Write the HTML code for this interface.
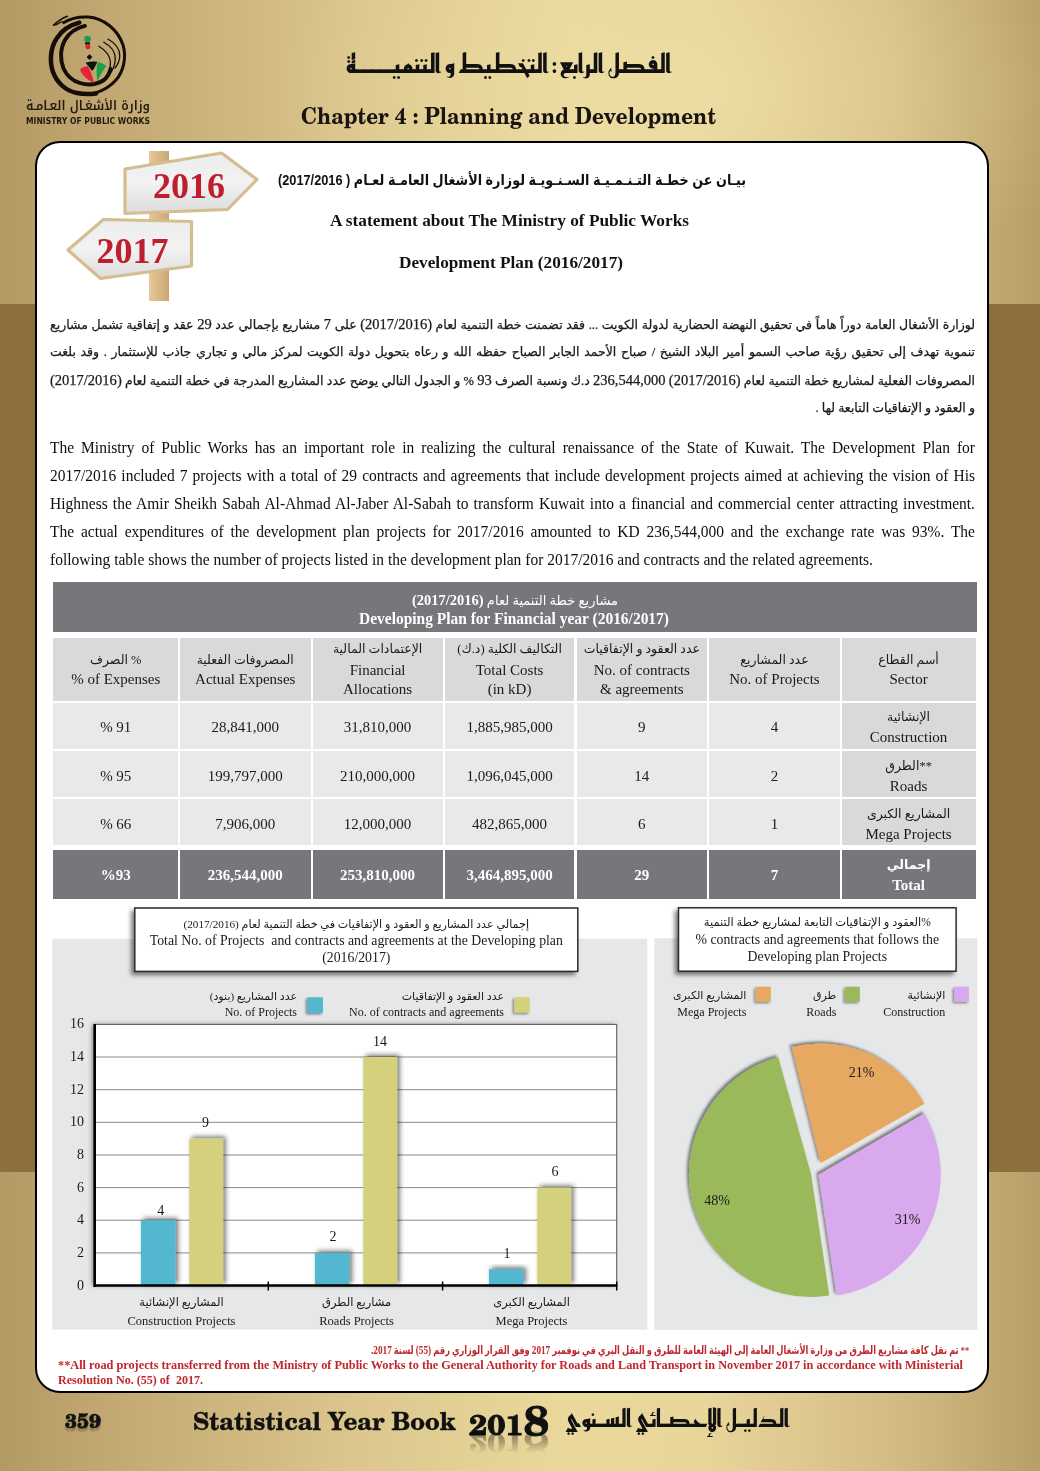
<!DOCTYPE html>
<html lang="ar">
<head>
<meta charset="utf-8">
<title>Chapter 4 : Planning and Development</title>
<style>
*{margin:0;padding:0;box-sizing:border-box}
html,body{width:1040px;height:1471px;overflow:hidden}
body{position:relative;font-family:"Liberation Serif","DejaVu Sans",serif;color:#111;
background:linear-gradient(90deg,#b39964 0%,#c4aa74 12%,#dcc88e 35%,#ead89c 55%,#e8d59a 68%,#d3bc84 86%,#b89e68 100%)}
.abs{position:absolute}
.nw{white-space:nowrap}
.ar{font-family:"Liberation Sans","DejaVu Sans",sans-serif;direction:rtl}
.band{position:absolute;left:0;top:304.0px;width:1040px;height:868px;background:#8e703e}
.topglow{position:absolute;left:0;top:0;width:1040px;height:304px;
background:radial-gradient(ellipse 420px 200px at 700px 90px,rgba(240,226,170,.55),rgba(240,226,170,0))}
.box{position:absolute;left:35px;top:141.0px;width:954px;height:1252px;background:#fff;border:2px solid #000;border-radius:25px}
.fit{display:inline-block;transform-origin:0 0}
.arp{position:absolute;left:50px;width:925px;height:22px;white-space:nowrap;direction:rtl;text-align:justify;text-align-last:justify;font-family:"Liberation Serif","DejaVu Sans",sans-serif;font-size:12.5px;line-height:22px;color:#1a1a1a}
.arp.last{text-align-last:right;text-align:right}
.enp{position:absolute;left:50px;width:925px;height:22px;white-space:nowrap;text-align:justify;text-align-last:justify;font-family:"Liberation Serif",serif;font-size:15.5px;line-height:22px;color:#0d0d0d}
.enp.last{text-align-last:left}
.enp{transform:scaleY(1.08);transform-origin:0 15px}
.arp .n{font-size:14.5px}
.arp{-webkit-text-stroke:.25px #1a1a1a}
</style>
</head>
<body>
<div class="topglow"></div>
<div class="band"></div>
<div class="box"></div>

<!-- HEADER -->
<svg class="abs" style="left:0;top:0" width="170" height="135" viewBox="0 0 170 135">
 <g fill="none" stroke="#140d08" stroke-linecap="round">
  <path d="M67.5 16.3 Q60 19 53.5 25.3" stroke-width="1.5"/>
  <path d="M53.5 25.3 Q58 24.5 62 21.5" stroke-width="1.1"/>
  <path d="M63.8 22.6 C72 17.5 80 16.6 88 17 C104 18 118 30 123 45 C127 58 123 72 116 80 C110 87 102 91 94 93.5" stroke-width="3"/>
  <path d="M79.3 22.6 C70 25 62 30 57 38 C50 48 49.5 62 53 72 C57 83 66 91 77 93 C84 94.5 90 94.3 96 93.5" stroke-width="4.5"/>
  <path d="M85 25.9 C76 28 69 33 65 40 C60 49 60 60 63.5 68.5 C67 76 73 81 80 83 C88 85.5 97 84.5 104 80 C107 77.5 109.5 73.5 110.5 69" stroke-width="3.9"/>
  <path d="M98.9 46.3 C105 50 110 55 110.4 62 C110.6 68 109 72 107 75.5" stroke-width="1.3"/>
  <path d="M103.8 42.2 C111 46 115.5 52 115.3 59 C115 65 113 69.5 110.5 73" stroke-width="1.3"/>
  <path d="M107.9 39 C115 43 120 49 119.8 56 C119.5 61.5 117.5 65 115 68" stroke-width="1.3"/>
 </g>
 <circle cx="87.5" cy="39" r="3.3" fill="#1aa048"/>
 <rect x="85" y="42.3" width="5" height="2.2" fill="#111"/>
 <circle cx="87.9" cy="46.8" r="2.5" fill="#d8242c"/>
 <path d="M89.5 54.2 l2.9 2.9 -2.9 2.9 -2.9 -2.9z" fill="#111"/>
 <path d="M85.6 62.8 Q91.5 60.8 97.4 61.8 L94.6 67.8 Q93 70.8 91.8 70.8 Q88.6 66.5 85.6 62.8z" fill="#111"/>
 <path d="M80 69.3 Q83.5 66.4 87.6 65.9 Q92 73 94.2 83.2 Q88.5 80.5 84.8 77 Q81 73.5 80 69.3z" fill="#e62433"/>
 <path d="M98.1 61.9 Q103 62.6 106.4 66 Q101.5 72 97.4 81.6 Q96 74 96.6 68 Q97 64 98.1 61.9z" fill="#1aa048"/>
</svg>
<div class="abs nw fx" id="lgar" style="left:25.5px;top:96.0px;width:123.5px;height:20px;font-family:'Noto Kufi Arabic','DejaVu Sans',sans-serif;font-weight:600;font-size:13px;line-height:20px;color:#221a12"><span class="fit" style="direction:rtl;unicode-bidi:isolate;transform:scaleX(0.9431)">وزارة الأشغـال العـامـة</span></div>
<div class="abs nw fx" id="lgen" style="left:25.5px;top:116.0px;width:123.5px;font-family:'DejaVu Sans',sans-serif;font-weight:bold;font-size:8.5px;line-height:10px;color:#221a12"><span class="fit" style="transform:scaleX(0.8969)">MINISTRY OF PUBLIC WORKS</span></div>
<div class="abs nw fx" id="ttlar" style="left:345.5px;top:46.0px;width:325.5px;height:36px;font-family:'Reem Kufi','DejaVu Sans',sans-serif;font-weight:700;font-size:26px;line-height:36px;color:#111"><span class="fit" style="direction:rtl;unicode-bidi:isolate;transform:scaleX(0.9707)">الفصل الرابع : التخطيط و التنميـــــة</span></div>
<div class="abs nw fx" id="ttlen" style="left:300.5px;top:100.5px;width:414.5px;font-family:'TeX Gyre Schola','DejaVu Serif',serif;font-weight:bold;font-size:23px;line-height:28px;color:#1a1410"><span class="fit" style="transform:scaleX(0.898)">Chapter 4 : Planning and Development</span></div>

<!-- CONTENT -->
<svg class="abs" style="left:60px;top:145px" width="205" height="160" viewBox="60 145 205 160">
 <defs>
  <linearGradient id="wood" x1="0" x2="1" y1="0" y2="0"><stop offset="0" stop-color="#e6c99a"/><stop offset=".5" stop-color="#d9b886"/><stop offset="1" stop-color="#c9a573"/></linearGradient>
  <linearGradient id="signf" x1="0" x2="0" y1="0" y2="1"><stop offset="0" stop-color="#ededed"/><stop offset=".5" stop-color="#f2f2f2"/><stop offset="1" stop-color="#dcdcdc"/></linearGradient>
 </defs>
 <rect x="149" y="151" width="20" height="150" fill="url(#wood)"/>
 <polygon points="125,169 221.5,153 257,179.5 227.5,209.5 125,213.5" fill="url(#signf)" stroke="#d4bd8e" stroke-width="3.2" stroke-linejoin="round"/>
 <polygon points="68,250 103.5,219.5 191.5,221.5 191.5,266 100.5,278.5" fill="url(#signf)" stroke="#d4bd8e" stroke-width="3.2" stroke-linejoin="round"/>
 <text x="189" y="198" text-anchor="middle" font-family="Liberation Serif" font-weight="bold" font-size="36" fill="#bd1f30">2016</text>
 <text x="132.5" y="263" text-anchor="middle" font-family="Liberation Serif" font-weight="bold" font-size="36" fill="#bd1f30">2017</text>
</svg>

<div class="abs nw fx" style="left:278px;top:170.0px;width:468px;font-family:'Liberation Sans','DejaVu Sans',sans-serif;font-weight:bold;font-size:15px;line-height:20px"><span class="fit" style="direction:rtl;unicode-bidi:isolate;transform:scaleX(0.8502)">بيـان عن خطـة التـنـمـيـة السـنـويـة لوزارة الأشغال العامـة لعـام ( 2017/2016)</span></div>
<div class="abs nw fx" style="left:330px;top:211px;width:359px;font-weight:bold;font-size:17.3px;line-height:20px"><span class="fit" style="transform:scaleX(1.0002)">A statement about The Ministry of Public Works</span></div>
<div class="abs nw fx" style="left:398.5px;top:252px;width:224px;font-weight:bold;font-size:17.5px;line-height:20px"><span class="fit" style="transform:scaleX(0.9847)">Development Plan (2016/2017)</span></div>

<div class="arp" style="top:313px">لوزارة الأشغال العامة دوراً هاماً في تحقيق النهضة الحضارية لدولة الكويت ... فقد تضمنت خطة التنمية لعام <span class="n">(2017/2016)</span> على <span class="n">7</span> مشاريع بإجمالي عدد <span class="n">29</span> عقد و إتفاقية تشمل مشاريع</div>
<div class="arp" style="top:341px">تنموية تهدف إلى تحقيق رؤية صاحب السمو أمير البلاد الشيخ / صباح الأحمد الجابر الصباح حفظه الله و رعاه بتحويل دولة الكويت لمركز مالي و تجاري جاذب للإستثمار . وقد بلغت</div>
<div class="arp" style="top:369px">المصروفات الفعلية لمشاريع خطة التنمية لعام <span class="n">(2017/2016)</span> <span class="n">236,544,000</span> د.ك ونسبة الصرف <span class="n">93</span> % و الجدول التالي يوضح عدد المشاريع المدرجة في خطة التنمية لعام <span class="n">(2017/2016)</span></div>
<div class="arp last" style="top:397px">و العقود و الإتفاقيات التابعة لها .</div>

<div class="enp" style="top:437px">The Ministry of Public Works has an important role in realizing the cultural renaissance of the State of Kuwait. The Development Plan for</div>
<div class="enp" style="top:465px">2017/2016 included 7 projects with a total of 29 contracts and agreements that include development projects aimed at achieving the vision of His</div>
<div class="enp" style="top:493px">Highness the Amir Sheikh Sabah Al-Ahmad Al-Jaber Al-Sabah to transform Kuwait into a financial and commercial center attracting investment.</div>
<div class="enp" style="top:521px">The actual expenditures of the development plan projects for 2017/2016 amounted to KD 236,544,000 and the exchange rate was 93%. The</div>
<div class="enp last" style="top:549px">following table shows the number of projects listed in the development plan for 2017/2016 and contracts and the related agreements.</div>
<!-- TABLE -->
<div class="abs" style="left:52.5px;top:582.3px;width:924px;height:50px;background:#77777b"></div>
<div class="abs nw fx" style="left:412px;top:590.5px;width:206px;font-family:'Liberation Serif','DejaVu Sans',sans-serif;font-size:13.5px;line-height:18px;color:#fff"><span class="fit" style="direction:rtl;unicode-bidi:isolate;transform:scaleX(0.9653)">مشاريع خطة التنمية لعام <b style="font-size:15px">(2017/2016)</b></span></div>
<div class="abs nw fx" style="left:359px;top:608.5px;width:310px;font-weight:bold;font-size:16.8px;line-height:20px;color:#fff"><span class="fit" style="transform:scaleX(0.9215)">Developing Plan for Financial year (2016/2017)</span></div>
<div class="abs" style="left:52.5px;top:637.7px;width:125.5px;height:63.1px;background:#d8d9db"></div>
<div class="abs" style="left:180.0px;top:637.7px;width:130.5px;height:63.1px;background:#d8d9db"></div>
<div class="abs" style="left:312.5px;top:637.7px;width:130.2px;height:63.1px;background:#d8d9db"></div>
<div class="abs" style="left:444.7px;top:637.7px;width:129.8px;height:63.1px;background:#d8d9db"></div>
<div class="abs" style="left:576.5px;top:637.7px;width:130.7px;height:63.1px;background:#d8d9db"></div>
<div class="abs" style="left:709.2px;top:637.7px;width:130.5px;height:63.1px;background:#d8d9db"></div>
<div class="abs" style="left:841.7px;top:637.7px;width:134.8px;height:63.1px;background:#d8d9db"></div>
<div class="abs" style="left:52.5px;top:702.6px;width:125.5px;height:46.1px;background:#e8e9eb"></div>
<div class="abs" style="left:180.0px;top:702.6px;width:130.5px;height:46.1px;background:#e8e9eb"></div>
<div class="abs" style="left:312.5px;top:702.6px;width:130.2px;height:46.1px;background:#e8e9eb"></div>
<div class="abs" style="left:444.7px;top:702.6px;width:129.8px;height:46.1px;background:#e8e9eb"></div>
<div class="abs" style="left:576.5px;top:702.6px;width:130.7px;height:46.1px;background:#e8e9eb"></div>
<div class="abs" style="left:709.2px;top:702.6px;width:130.5px;height:46.1px;background:#e8e9eb"></div>
<div class="abs" style="left:841.7px;top:702.6px;width:134.8px;height:46.1px;background:#d8d9db"></div>
<div class="abs" style="left:52.5px;top:751.0px;width:125.5px;height:46.2px;background:#e8e9eb"></div>
<div class="abs" style="left:180.0px;top:751.0px;width:130.5px;height:46.2px;background:#e8e9eb"></div>
<div class="abs" style="left:312.5px;top:751.0px;width:130.2px;height:46.2px;background:#e8e9eb"></div>
<div class="abs" style="left:444.7px;top:751.0px;width:129.8px;height:46.2px;background:#e8e9eb"></div>
<div class="abs" style="left:576.5px;top:751.0px;width:130.7px;height:46.2px;background:#e8e9eb"></div>
<div class="abs" style="left:709.2px;top:751.0px;width:130.5px;height:46.2px;background:#e8e9eb"></div>
<div class="abs" style="left:841.7px;top:751.0px;width:134.8px;height:46.2px;background:#d8d9db"></div>
<div class="abs" style="left:52.5px;top:799.3px;width:125.5px;height:45.3px;background:#e8e9eb"></div>
<div class="abs" style="left:180.0px;top:799.3px;width:130.5px;height:45.3px;background:#e8e9eb"></div>
<div class="abs" style="left:312.5px;top:799.3px;width:130.2px;height:45.3px;background:#e8e9eb"></div>
<div class="abs" style="left:444.7px;top:799.3px;width:129.8px;height:45.3px;background:#e8e9eb"></div>
<div class="abs" style="left:576.5px;top:799.3px;width:130.7px;height:45.3px;background:#e8e9eb"></div>
<div class="abs" style="left:709.2px;top:799.3px;width:130.5px;height:45.3px;background:#e8e9eb"></div>
<div class="abs" style="left:841.7px;top:799.3px;width:134.8px;height:45.3px;background:#d8d9db"></div>
<div class="abs" style="left:52.5px;top:849.8px;width:125.5px;height:49.7px;background:#77777b"></div>
<div class="abs" style="left:180.0px;top:849.8px;width:130.5px;height:49.7px;background:#77777b"></div>
<div class="abs" style="left:312.5px;top:849.8px;width:130.2px;height:49.7px;background:#77777b"></div>
<div class="abs" style="left:444.7px;top:849.8px;width:129.8px;height:49.7px;background:#77777b"></div>
<div class="abs" style="left:576.5px;top:849.8px;width:130.7px;height:49.7px;background:#77777b"></div>
<div class="abs" style="left:709.2px;top:849.8px;width:130.5px;height:49.7px;background:#77777b"></div>
<div class="abs" style="left:841.7px;top:849.8px;width:134.8px;height:49.7px;background:#77777b"></div>
<!-- TABLETEXT -->
<div class="abs nw" style="left:52.5px;top:650.3px;width:126.5px;font-family:'Liberation Serif','DejaVu Sans',sans-serif;font-size:12.5px;line-height:20px;color:#1a1a1a;text-align:center;direction:rtl">% الصرف</div>
<div class="abs nw" style="left:52.5px;top:668.6px;width:126.5px;font-family:'Liberation Serif','DejaVu Sans',sans-serif;font-size:15px;line-height:20px;color:#1a1a1a;text-align:center">% of Expenses</div>
<div class="abs nw" style="left:179px;top:650.3px;width:132.5px;font-family:'Liberation Serif','DejaVu Sans',sans-serif;font-size:12.5px;line-height:20px;color:#1a1a1a;text-align:center;direction:rtl">المصروفات الفعلية</div>
<div class="abs nw" style="left:179px;top:668.6px;width:132.5px;font-family:'Liberation Serif','DejaVu Sans',sans-serif;font-size:15px;line-height:20px;color:#1a1a1a;text-align:center">Actual Expenses</div>
<div class="abs nw" style="left:708.2px;top:650.3px;width:132.5px;font-family:'Liberation Serif','DejaVu Sans',sans-serif;font-size:12.5px;line-height:20px;color:#1a1a1a;text-align:center;direction:rtl">عدد المشاريع</div>
<div class="abs nw" style="left:708.2px;top:668.6px;width:132.5px;font-family:'Liberation Serif','DejaVu Sans',sans-serif;font-size:15px;line-height:20px;color:#1a1a1a;text-align:center">No. of Projects</div>
<div class="abs nw" style="left:840.7px;top:650.3px;width:135.8px;font-family:'Liberation Serif','DejaVu Sans',sans-serif;font-size:12.5px;line-height:20px;color:#1a1a1a;text-align:center;direction:rtl">أسم القطاع</div>
<div class="abs nw" style="left:840.7px;top:668.6px;width:135.8px;font-family:'Liberation Serif','DejaVu Sans',sans-serif;font-size:15px;line-height:20px;color:#1a1a1a;text-align:center">Sector</div>
<div class="abs nw" style="left:311.5px;top:639.2px;width:132.2px;font-family:'Liberation Serif','DejaVu Sans',sans-serif;font-size:12.5px;line-height:20px;color:#1a1a1a;text-align:center;direction:rtl">الإعتمادات المالية</div>
<div class="abs nw" style="left:311.5px;top:659.6px;width:132.2px;font-family:'Liberation Serif','DejaVu Sans',sans-serif;font-size:15px;line-height:20px;color:#1a1a1a;text-align:center">Financial</div>
<div class="abs nw" style="left:311.5px;top:678.6px;width:132.2px;font-family:'Liberation Serif','DejaVu Sans',sans-serif;font-size:15px;line-height:20px;color:#1a1a1a;text-align:center">Allocations</div>
<div class="abs nw" style="left:443.7px;top:639.2px;width:131.8px;font-family:'Liberation Serif','DejaVu Sans',sans-serif;font-size:12.5px;line-height:20px;color:#1a1a1a;text-align:center;direction:rtl">التكاليف الكلية (د.ك)</div>
<div class="abs nw" style="left:443.7px;top:659.6px;width:131.8px;font-family:'Liberation Serif','DejaVu Sans',sans-serif;font-size:15px;line-height:20px;color:#1a1a1a;text-align:center">Total Costs</div>
<div class="abs nw" style="left:443.7px;top:678.6px;width:131.8px;font-family:'Liberation Serif','DejaVu Sans',sans-serif;font-size:15px;line-height:20px;color:#1a1a1a;text-align:center">(in kD)</div>
<div class="abs nw" style="left:575.5px;top:639.2px;width:132.7px;font-family:'Liberation Serif','DejaVu Sans',sans-serif;font-size:12.5px;line-height:20px;color:#1a1a1a;text-align:center;direction:rtl">عدد العقود و الإتفاقيات</div>
<div class="abs nw" style="left:575.5px;top:659.6px;width:132.7px;font-family:'Liberation Serif','DejaVu Sans',sans-serif;font-size:15px;line-height:20px;color:#1a1a1a;text-align:center">No. of contracts</div>
<div class="abs nw" style="left:575.5px;top:678.6px;width:132.7px;font-family:'Liberation Serif','DejaVu Sans',sans-serif;font-size:15px;line-height:20px;color:#1a1a1a;text-align:center">&amp; agreements</div>
<div class="abs nw" style="left:52.5px;top:717.4px;width:126.5px;font-family:'Liberation Serif','DejaVu Sans',sans-serif;font-size:15px;line-height:20px;color:#1a1a1a;text-align:center">% 91</div>
<div class="abs nw" style="left:179px;top:717.4px;width:132.5px;font-family:'Liberation Serif','DejaVu Sans',sans-serif;font-size:15px;line-height:20px;color:#1a1a1a;text-align:center">28,841,000</div>
<div class="abs nw" style="left:311.5px;top:717.4px;width:132.2px;font-family:'Liberation Serif','DejaVu Sans',sans-serif;font-size:15px;line-height:20px;color:#1a1a1a;text-align:center">31,810,000</div>
<div class="abs nw" style="left:443.7px;top:717.4px;width:131.8px;font-family:'Liberation Serif','DejaVu Sans',sans-serif;font-size:15px;line-height:20px;color:#1a1a1a;text-align:center">1,885,985,000</div>
<div class="abs nw" style="left:575.5px;top:717.4px;width:132.7px;font-family:'Liberation Serif','DejaVu Sans',sans-serif;font-size:15px;line-height:20px;color:#1a1a1a;text-align:center">9</div>
<div class="abs nw" style="left:708.2px;top:717.4px;width:132.5px;font-family:'Liberation Serif','DejaVu Sans',sans-serif;font-size:15px;line-height:20px;color:#1a1a1a;text-align:center">4</div>
<div class="abs nw" style="left:840.7px;top:707.4px;width:135.8px;font-family:'Liberation Serif','DejaVu Sans',sans-serif;font-size:12.5px;line-height:20px;color:#1a1a1a;text-align:center;direction:rtl">الإنشائية</div>
<div class="abs nw" style="left:840.7px;top:727.4px;width:135.8px;font-family:'Liberation Serif','DejaVu Sans',sans-serif;font-size:15px;line-height:20px;color:#1a1a1a;text-align:center">Construction</div>
<div class="abs nw" style="left:52.5px;top:765.9px;width:126.5px;font-family:'Liberation Serif','DejaVu Sans',sans-serif;font-size:15px;line-height:20px;color:#1a1a1a;text-align:center">% 95</div>
<div class="abs nw" style="left:179px;top:765.9px;width:132.5px;font-family:'Liberation Serif','DejaVu Sans',sans-serif;font-size:15px;line-height:20px;color:#1a1a1a;text-align:center">199,797,000</div>
<div class="abs nw" style="left:311.5px;top:765.9px;width:132.2px;font-family:'Liberation Serif','DejaVu Sans',sans-serif;font-size:15px;line-height:20px;color:#1a1a1a;text-align:center">210,000,000</div>
<div class="abs nw" style="left:443.7px;top:765.9px;width:131.8px;font-family:'Liberation Serif','DejaVu Sans',sans-serif;font-size:15px;line-height:20px;color:#1a1a1a;text-align:center">1,096,045,000</div>
<div class="abs nw" style="left:575.5px;top:765.9px;width:132.7px;font-family:'Liberation Serif','DejaVu Sans',sans-serif;font-size:15px;line-height:20px;color:#1a1a1a;text-align:center">14</div>
<div class="abs nw" style="left:708.2px;top:765.9px;width:132.5px;font-family:'Liberation Serif','DejaVu Sans',sans-serif;font-size:15px;line-height:20px;color:#1a1a1a;text-align:center">2</div>
<div class="abs nw" style="left:840.7px;top:755.9px;width:135.8px;font-family:'Liberation Serif','DejaVu Sans',sans-serif;font-size:12.5px;line-height:20px;color:#1a1a1a;text-align:center;direction:rtl">**الطرق</div>
<div class="abs nw" style="left:840.7px;top:775.9px;width:135.8px;font-family:'Liberation Serif','DejaVu Sans',sans-serif;font-size:15px;line-height:20px;color:#1a1a1a;text-align:center">Roads</div>
<div class="abs nw" style="left:52.5px;top:813.8px;width:126.5px;font-family:'Liberation Serif','DejaVu Sans',sans-serif;font-size:15px;line-height:20px;color:#1a1a1a;text-align:center">% 66</div>
<div class="abs nw" style="left:179px;top:813.8px;width:132.5px;font-family:'Liberation Serif','DejaVu Sans',sans-serif;font-size:15px;line-height:20px;color:#1a1a1a;text-align:center">7,906,000</div>
<div class="abs nw" style="left:311.5px;top:813.8px;width:132.2px;font-family:'Liberation Serif','DejaVu Sans',sans-serif;font-size:15px;line-height:20px;color:#1a1a1a;text-align:center">12,000,000</div>
<div class="abs nw" style="left:443.7px;top:813.8px;width:131.8px;font-family:'Liberation Serif','DejaVu Sans',sans-serif;font-size:15px;line-height:20px;color:#1a1a1a;text-align:center">482,865,000</div>
<div class="abs nw" style="left:575.5px;top:813.8px;width:132.7px;font-family:'Liberation Serif','DejaVu Sans',sans-serif;font-size:15px;line-height:20px;color:#1a1a1a;text-align:center">6</div>
<div class="abs nw" style="left:708.2px;top:813.8px;width:132.5px;font-family:'Liberation Serif','DejaVu Sans',sans-serif;font-size:15px;line-height:20px;color:#1a1a1a;text-align:center">1</div>
<div class="abs nw" style="left:840.7px;top:803.8px;width:135.8px;font-family:'Liberation Serif','DejaVu Sans',sans-serif;font-size:12.5px;line-height:20px;color:#1a1a1a;text-align:center;direction:rtl">المشاريع الكبرى</div>
<div class="abs nw" style="left:840.7px;top:823.8px;width:135.8px;font-family:'Liberation Serif','DejaVu Sans',sans-serif;font-size:15px;line-height:20px;color:#1a1a1a;text-align:center">Mega Projects</div>
<div class="abs nw" style="left:52.5px;top:864.6px;width:126.5px;font-family:'Liberation Serif','DejaVu Sans',sans-serif;font-size:15px;line-height:20px;color:#fff;text-align:center;font-weight:bold">%93</div>
<div class="abs nw" style="left:179px;top:864.6px;width:132.5px;font-family:'Liberation Serif','DejaVu Sans',sans-serif;font-size:15px;line-height:20px;color:#fff;text-align:center;font-weight:bold">236,544,000</div>
<div class="abs nw" style="left:311.5px;top:864.6px;width:132.2px;font-family:'Liberation Serif','DejaVu Sans',sans-serif;font-size:15px;line-height:20px;color:#fff;text-align:center;font-weight:bold">253,810,000</div>
<div class="abs nw" style="left:443.7px;top:864.6px;width:131.8px;font-family:'Liberation Serif','DejaVu Sans',sans-serif;font-size:15px;line-height:20px;color:#fff;text-align:center;font-weight:bold">3,464,895,000</div>
<div class="abs nw" style="left:575.5px;top:864.6px;width:132.7px;font-family:'Liberation Serif','DejaVu Sans',sans-serif;font-size:15px;line-height:20px;color:#fff;text-align:center;font-weight:bold">29</div>
<div class="abs nw" style="left:708.2px;top:864.6px;width:132.5px;font-family:'Liberation Serif','DejaVu Sans',sans-serif;font-size:15px;line-height:20px;color:#fff;text-align:center;font-weight:bold">7</div>
<div class="abs nw" style="left:840.7px;top:854.6px;width:135.8px;font-family:'Liberation Serif','DejaVu Sans',sans-serif;font-size:12.5px;line-height:20px;color:#fff;text-align:center;font-weight:bold;direction:rtl">إجمالي</div>
<div class="abs nw" style="left:840.7px;top:874.6px;width:135.8px;font-family:'Liberation Serif','DejaVu Sans',sans-serif;font-size:15px;line-height:20px;color:#fff;text-align:center;font-weight:bold">Total</div>
<!-- CHARTS -->
<svg class="abs" style="left:0;top:880px" width="1040" height="460" viewBox="0 880 1040 460">
<defs>
 <filter id="shb" x="-40%" y="-30%" width="180%" height="160%"><feDropShadow dx="2.5" dy="-2" stdDeviation="2.4" flood-color="#000" flood-opacity=".55"/></filter>
 <filter id="shp" x="-10%" y="-10%" width="120%" height="120%"><feDropShadow dx="-2.5" dy="0" stdDeviation="2" flood-color="#000" flood-opacity=".45"/></filter>
 <filter id="sht" x="-10%" y="-20%" width="120%" height="150%"><feDropShadow dx="-3" dy="3" stdDeviation="2.2" flood-color="#000" flood-opacity=".5"/></filter>
 <filter id="shpie" x="-10%" y="-10%" width="120%" height="120%"><feDropShadow dx="-2" dy="-2" stdDeviation="1.6" flood-color="#000" flood-opacity=".5"/></filter>
 <filter id="shl" x="-40%" y="-40%" width="180%" height="180%"><feDropShadow dx="-1.5" dy="1.5" stdDeviation="1.2" flood-color="#000" flood-opacity=".45"/></filter>
</defs>
<rect x="52.3" y="938.8" width="594.9" height="390.8" fill="#e6e7e9"/>
<rect x="654.4" y="938.3" width="322.9" height="391.7" fill="#e6e7e9"/>
<rect x="134.8" y="908" width="443" height="63.4" fill="#fff" stroke="#2a2a2a" stroke-width="1.5" filter="url(#sht)"/>
<rect x="678.5" y="907.8" width="277.6" height="63.4" fill="#fff" stroke="#2a2a2a" stroke-width="1.5" filter="url(#sht)"/>
<rect x="94.7" y="1024.4" width="522.0" height="261.0999999999999" fill="#fff" filter="url(#shp)"/>
<line x1="94.7" x2="616.7" y1="1252.9" y2="1252.9" stroke="#8a8a8a" stroke-width="1"/>
<line x1="94.7" x2="616.7" y1="1220.2" y2="1220.2" stroke="#8a8a8a" stroke-width="1"/>
<line x1="94.7" x2="616.7" y1="1187.6" y2="1187.6" stroke="#8a8a8a" stroke-width="1"/>
<line x1="94.7" x2="616.7" y1="1155.0" y2="1155.0" stroke="#8a8a8a" stroke-width="1"/>
<line x1="94.7" x2="616.7" y1="1122.3" y2="1122.3" stroke="#8a8a8a" stroke-width="1"/>
<line x1="94.7" x2="616.7" y1="1089.7" y2="1089.7" stroke="#8a8a8a" stroke-width="1"/>
<line x1="94.7" x2="616.7" y1="1057.0" y2="1057.0" stroke="#8a8a8a" stroke-width="1"/>
<rect x="94.7" y="1024.4" width="522.0" height="261.0999999999999" fill="none" stroke="#555" stroke-width="1"/>
<rect x="140.9" y="1220.2" width="34.6" height="65.3" fill="#52b8cf" filter="url(#shb)"/>
<rect x="189.3" y="1138.6" width="33.8" height="146.9" fill="#d4d07c" filter="url(#shb)"/>
<rect x="314.9" y="1252.9" width="34.6" height="32.6" fill="#52b8cf" filter="url(#shb)"/>
<rect x="363.3" y="1057.0" width="33.8" height="228.5" fill="#d4d07c" filter="url(#shb)"/>
<rect x="488.9" y="1269.2" width="34.6" height="16.3" fill="#52b8cf" filter="url(#shb)"/>
<rect x="537.3" y="1187.6" width="33.8" height="97.9" fill="#d4d07c" filter="url(#shb)"/>
<line x1="94.7" x2="94.7" y1="1023.9000000000001" y2="1287.0" stroke="#000" stroke-width="2.6"/>
<line x1="93.7" x2="617.2" y1="1285.5" y2="1285.5" stroke="#000" stroke-width="2.6"/>
<line x1="268.3" x2="268.3" y1="1281.5" y2="1290.5" stroke="#000" stroke-width="1.5"/>
<line x1="442.6" x2="442.6" y1="1281.5" y2="1290.5" stroke="#000" stroke-width="1.5"/>
<line x1="616.7" x2="616.7" y1="1281.5" y2="1290.5" stroke="#000" stroke-width="1.5"/>
<rect x="307.3" y="997.3" width="15.6" height="15.6" fill="#52b8cf" filter="url(#shl)"/>
<rect x="514.3" y="997.2" width="15.3" height="15.3" fill="#d4d07c" filter="url(#shl)"/>
<rect x="954.3" y="986.7" width="14.6" height="14.9" fill="#d9a9ee" filter="url(#shl)"/>
<rect x="844.9" y="986.7" width="14.9" height="14.9" fill="#9ab95a" filter="url(#shl)"/>
<rect x="755.6" y="986.7" width="15.2" height="14.9" fill="#e7a862" filter="url(#shl)"/>
<path d="M811.17 1174.69 L829.23 1295.55 A122.2 122.2 0 0 1 778.10 1057.05 Z" fill="#9ab95a" filter="url(#shpie)"/>
<path d="M818.50 1174.68 L924.22 1113.40 A122.2 122.2 0 0 1 836.57 1295.54 Z" fill="#d9a9ee" filter="url(#shpie)"/>
<path d="M820.64 1163.30 L791.66 1047.06 A119.8 119.8 0 0 1 924.60 1103.76 Z" fill="#e7a862" filter="url(#shpie)"/>
</svg>
<div class="abs nw" style="left:134.8px;top:915.5px;width:443.0px;font-size:11.2px;line-height:16px;color:#1a1a1a;text-align:center;direction:rtl;font-family:'Liberation Serif','DejaVu Sans',sans-serif">إجمالي عدد المشاريع  و العقود و الإتفاقيات في خطة التنمية لعام (2017/2016)</div>
<div class="abs nw" style="left:134.8px;top:933.2px;width:443.0px;font-size:13.8px;line-height:16px;color:#1a1a1a;text-align:center">Total No. of Projects&nbsp; and contracts and agreements at the Developing plan</div>
<div class="abs nw" style="left:134.8px;top:949.6px;width:443.0px;font-size:13.8px;line-height:16px;color:#1a1a1a;text-align:center">(2016/2017)</div>
<div class="abs nw" style="left:678.5px;top:914.0px;width:277.6px;font-size:11.5px;line-height:16px;color:#1a1a1a;text-align:center;direction:rtl;font-family:'Liberation Serif','DejaVu Sans',sans-serif">%العقود و الإتفاقيات التابعة لمشاريع خطة التنمية</div>
<div class="abs nw" style="left:678.5px;top:932.0px;width:277.6px;font-size:13.8px;line-height:16px;color:#1a1a1a;text-align:center">% contracts and agreements that follows the</div>
<div class="abs nw" style="left:678.5px;top:949.3px;width:277.6px;font-size:13.8px;line-height:16px;color:#1a1a1a;text-align:center">Developing plan Projects</div>
<div class="abs nw" style="left:197.0px;top:988.3px;width:100.0px;font-size:11px;line-height:16px;color:#1a1a1a;text-align:right;direction:rtl;font-family:'Liberation Serif','DejaVu Sans',sans-serif">عدد المشاريع (بنود)</div>
<div class="abs nw" style="left:197.0px;top:1003.8px;width:100.0px;font-size:12px;line-height:16px;color:#1a1a1a;text-align:right">No. of Projects</div>
<div class="abs nw" style="left:304.0px;top:988.3px;width:200.0px;font-size:11px;line-height:16px;color:#1a1a1a;text-align:right;direction:rtl;font-family:'Liberation Serif','DejaVu Sans',sans-serif">عدد العقود و الإتفاقيات</div>
<div class="abs nw" style="left:304.0px;top:1003.8px;width:200.0px;font-size:12px;line-height:16px;color:#1a1a1a;text-align:right">No. of contracts and agreements</div>
<div class="abs nw" style="left:845.3px;top:987.4px;width:100.0px;font-size:11px;line-height:16px;color:#1a1a1a;text-align:right;direction:rtl;font-family:'Liberation Serif','DejaVu Sans',sans-serif">الإنشائية</div>
<div class="abs nw" style="left:845.3px;top:1004.0px;width:100.0px;font-size:12px;line-height:16px;color:#1a1a1a;text-align:right">Construction</div>
<div class="abs nw" style="left:736.3px;top:987.4px;width:100.0px;font-size:11px;line-height:16px;color:#1a1a1a;text-align:right;direction:rtl;font-family:'Liberation Serif','DejaVu Sans',sans-serif">طرق</div>
<div class="abs nw" style="left:736.3px;top:1004.0px;width:100.0px;font-size:12px;line-height:16px;color:#1a1a1a;text-align:right">Roads</div>
<div class="abs nw" style="left:646.3px;top:987.4px;width:100.0px;font-size:11px;line-height:16px;color:#1a1a1a;text-align:right;direction:rtl;font-family:'Liberation Serif','DejaVu Sans',sans-serif">المشاريع الكبرى</div>
<div class="abs nw" style="left:646.3px;top:1004.0px;width:100.0px;font-size:12px;line-height:16px;color:#1a1a1a;text-align:right">Mega Projects</div>
<div class="abs nw" style="left:54.0px;top:1277.5px;width:30.0px;font-size:14px;line-height:16px;color:#1a1a1a;text-align:right">0</div>
<div class="abs nw" style="left:54.0px;top:1244.9px;width:30.0px;font-size:14px;line-height:16px;color:#1a1a1a;text-align:right">2</div>
<div class="abs nw" style="left:54.0px;top:1212.2px;width:30.0px;font-size:14px;line-height:16px;color:#1a1a1a;text-align:right">4</div>
<div class="abs nw" style="left:54.0px;top:1179.6px;width:30.0px;font-size:14px;line-height:16px;color:#1a1a1a;text-align:right">6</div>
<div class="abs nw" style="left:54.0px;top:1147.0px;width:30.0px;font-size:14px;line-height:16px;color:#1a1a1a;text-align:right">8</div>
<div class="abs nw" style="left:54.0px;top:1114.3px;width:30.0px;font-size:14px;line-height:16px;color:#1a1a1a;text-align:right">10</div>
<div class="abs nw" style="left:54.0px;top:1081.7px;width:30.0px;font-size:14px;line-height:16px;color:#1a1a1a;text-align:right">12</div>
<div class="abs nw" style="left:54.0px;top:1049.0px;width:30.0px;font-size:14px;line-height:16px;color:#1a1a1a;text-align:right">14</div>
<div class="abs nw" style="left:54.0px;top:1016.4px;width:30.0px;font-size:14px;line-height:16px;color:#1a1a1a;text-align:right">16</div>
<div class="abs nw" style="left:140.7px;top:1202.8px;width:40.0px;font-size:14px;line-height:16px;color:#1a1a1a;text-align:center">4</div>
<div class="abs nw" style="left:185.6px;top:1115.4px;width:40.0px;font-size:14px;line-height:16px;color:#1a1a1a;text-align:center">9</div>
<div class="abs nw" style="left:313.0px;top:1229.4px;width:40.0px;font-size:14px;line-height:16px;color:#1a1a1a;text-align:center">2</div>
<div class="abs nw" style="left:360.0px;top:1033.8px;width:40.0px;font-size:14px;line-height:16px;color:#1a1a1a;text-align:center">14</div>
<div class="abs nw" style="left:487.0px;top:1246.0px;width:40.0px;font-size:14px;line-height:16px;color:#1a1a1a;text-align:center">1</div>
<div class="abs nw" style="left:535.0px;top:1164.0px;width:40.0px;font-size:14px;line-height:16px;color:#1a1a1a;text-align:center">6</div>
<div class="abs nw" style="left:101.5px;top:1294.0px;width:160.0px;font-size:11.5px;line-height:16px;color:#1a1a1a;text-align:center;direction:rtl;font-family:'Liberation Serif','DejaVu Sans',sans-serif">المشاريع الإنشائية</div>
<div class="abs nw" style="left:101.5px;top:1313.0px;width:160.0px;font-size:12.5px;line-height:16px;color:#1a1a1a;text-align:center">Construction Projects</div>
<div class="abs nw" style="left:276.6px;top:1294.0px;width:160.0px;font-size:11.5px;line-height:16px;color:#1a1a1a;text-align:center;direction:rtl;font-family:'Liberation Serif','DejaVu Sans',sans-serif">مشاريع الطرق</div>
<div class="abs nw" style="left:276.6px;top:1313.0px;width:160.0px;font-size:12.5px;line-height:16px;color:#1a1a1a;text-align:center">Roads Projects</div>
<div class="abs nw" style="left:451.5px;top:1294.0px;width:160.0px;font-size:11.5px;line-height:16px;color:#1a1a1a;text-align:center;direction:rtl;font-family:'Liberation Serif','DejaVu Sans',sans-serif">المشاريع الكبرى</div>
<div class="abs nw" style="left:451.5px;top:1313.0px;width:160.0px;font-size:12.5px;line-height:16px;color:#1a1a1a;text-align:center">Mega Projects</div>
<div class="abs nw" style="left:831.5px;top:1065.0px;width:60.0px;font-size:14px;line-height:16px;color:#1a1a1a;text-align:center">21%</div>
<div class="abs nw" style="left:687.0px;top:1193.4px;width:60.0px;font-size:14px;line-height:16px;color:#1a1a1a;text-align:center">48%</div>
<div class="abs nw" style="left:877.7px;top:1212.0px;width:60.0px;font-size:14px;line-height:16px;color:#1a1a1a;text-align:center">31%</div>
<!-- FOOT -->
<div class="abs nw fx" style="left:371px;top:1341.0px;width:598px;font-family:'Liberation Serif','DejaVu Sans',sans-serif;font-weight:bold;font-size:11.2px;line-height:18px;color:#c0272d"><span class="fit" style="direction:rtl;unicode-bidi:isolate;transform:scaleX(0.7384)">** تم نقل كافة مشاريع الطرق من وزارة الأشغال العامة إلى الهيئة العامة للطرق و النقل البري في نوفمبر <span style="font-size:12.5px">2017</span> وفق القرار الوزاري رقم <span style="font-size:12.5px">(55)</span> لسنة <span style="font-size:12.5px">2017.</span></span></div>
<div class="abs nw fx" style="left:57.5px;top:1357.0px;width:905px;font-weight:bold;font-size:12.5px;line-height:17px;color:#c0272d"><span class="fit" style="transform:scaleX(0.9817)">**All road projects transferred from the Ministry of Public Works to the General Authority for Roads and Land Transport in November 2017 in accordance with Ministerial</span></div>
<div class="abs nw fx" style="left:57.5px;top:1372.3px;width:145px;font-weight:bold;font-size:12.5px;line-height:17px;color:#c0272d"><span class="fit" style="transform:scaleX(0.9645)">Resolution No. (55) of&nbsp; 2017.</span></div>

<!-- FOOTER -->
<div class="abs nw fx" style="left:65px;top:1407px;width:36.2px;font-family:'TeX Gyre Schola','DejaVu Serif',serif;font-weight:bold;font-size:20px;line-height:26px;color:#111;text-shadow:0 3px 2px rgba(0,0,0,.3);-webkit-text-stroke:.6px #111"><span class="fit" style="transform:scaleX(1.0449)">359</span></div>
<div class="abs nw fx" style="left:192.5px;top:1404.5px;width:262.5px;font-family:'TeX Gyre Schola','DejaVu Serif',serif;font-weight:bold;font-size:25px;line-height:30px;color:#111;-webkit-text-stroke:.35px #111"><span class="fit" style="transform:scaleX(0.9667)">Statistical Year Book</span></div>

<div class="abs nw fx" id="y2018" style="left:469px;top:1399px;width:79.5px;height:40px;font-family:'TeX Gyre Schola','DejaVu Serif',serif;font-weight:bold;line-height:40px;color:#111;-webkit-text-stroke:.8px #111"><span class="fit" style="transform:scaleX(1.0971)"><span style="font-size:29px">201</span><span style="font-size:40px">8</span></span></div>
<div class="abs nw fx" style="left:469px;top:1400px;width:79.5px;height:40px;font-family:'TeX Gyre Schola','DejaVu Serif',serif;font-weight:bold;line-height:40px;color:#000;opacity:.32;-webkit-text-stroke:.8px #000;transform:translateY(68.5px) scaleY(-1);transform-origin:0 0;-webkit-mask-image:linear-gradient(to top,#000 0,#000 25%,rgba(0,0,0,0) 62%);mask-image:linear-gradient(to top,#000 0,#000 25%,rgba(0,0,0,0) 62%)"><span class="fit" style="transform:scaleX(1.0971)"><span style="font-size:29px">201</span><span style="font-size:40px">8</span></span></div>
<div class="abs nw fx" style="left:565px;top:1401.0px;width:224.5px;height:36px;font-family:'Reem Kufi','DejaVu Sans',sans-serif;font-weight:700;font-size:24px;line-height:36px;color:#111"><span class="fit" style="direction:rtl;unicode-bidi:isolate;transform:scaleX(0.964)">الدليـل الإحصـائي السـنوي</span></div>


<script>
(function(){
 var els=document.querySelectorAll('.fx');
 for(var i=0;i<els.length;i++){
  var el=els[i], s=el.firstElementChild; if(!s) continue;
  s.style.transform='none';
  var w=s.getBoundingClientRect().width, W=el.clientWidth;
  if(w>0&&W>0){ s.style.transform='scaleX('+(W/w).toFixed(4)+')'; }
 }
})();
</script>
</body>
</html>
